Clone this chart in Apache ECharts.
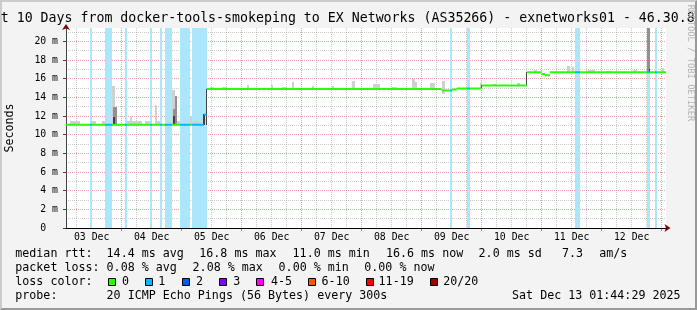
<!DOCTYPE html>
<html><head><meta charset="utf-8">
<script src="https://cdn.jsdelivr.net/npm/echarts@6/dist/echarts.min.js"></script>
<style>
html,body{margin:0;padding:0;background:#f3f3f3;}
#frame{position:absolute;left:0;top:0;width:693px;height:306px;border-style:solid;border-width:2px;border-color:#cbcbcb #999999 #999999 #cbcbcb;background:#f3f3f3;}
#chart{position:absolute;left:0;top:0;width:697px;height:310px;}
</style></head><body>
<div id="frame"></div><div id="chart"></div>
<script>
// ---- DATA (time in hours since 03 Dec 2025 00:00, values in ms) ----
const startHour = 1.7414;          // Dec 03 01:44:29
const endHour = 241.7414;          // Dec 13 01:44:29
const yMaxMs = 21.43;

const dayLabels = ['03 Dec','04 Dec','05 Dec','06 Dec','07 Dec','08 Dec','09 Dec','10 Dec','11 Dec','12 Dec'];
const dayNoonHours = [12,36,60,84,108,132,156,180,204,228];
const midnightHours = [24,48,72,96,120,144,168,192,216,240];
const yMajorTicks = [0,2,4,6,8,10,12,14,16,18,20];
const yMinorTicks = [1,3,5,7,9,11,13,15,17,19,21];

// median rtt, piecewise
const medianStart = [1.74, 56.9, 58.0, 152.0, 156.2, 158.0, 168.0, 186.0, 192.0, 193.3, 195.3];
const medianEnd   = [56.9, 58.0, 152.0, 156.2, 158.0, 168.0, 186.0, 192.0, 193.3, 195.3, 241.74];
const medianMs    = [11.05, 12.15, 14.9, 14.74, 14.85, 14.95, 15.28, 16.68, 16.5, 16.36, 16.7];

// loss periods (pings lost of 20)
const lossStart = [11.3, 17.3, 25.3, 35.3, 39.3, 41.3, 47.3, 52.0, 155.3, 162.0, 205.3, 234.0, 237.3];
const lossEnd   = [12.0, 20.2, 26.0, 36.1, 40.0, 44.0, 51.3, 58.0, 156.2, 163.3, 207.3, 235.3, 238.1];
const lossPings = [1,1,1,1,1,1,1,1,1,1,1,1,1];

// smoke: [tStart, tEnd, low ms, high ms]
const smokeLight = [
  [3.3,7.3,11.0,11.5],[11.9,13.9,11.0,11.45],[16.0,17.3,11.0,11.5],[20.0,21.3,11.1,15.2],
  [26.0,27.3,11.0,11.45],[27.3,28.0,11.0,12.0],[28.0,32.0,11.0,11.45],[33.3,35.3,11.0,11.45],
  [37.3,38.0,11.1,13.2],[38.0,39.3,11.0,11.5],[44.0,45.3,11.1,14.8],[46.0,47.3,11.0,11.5],
  [51.3,52.0,11.0,12.0],[52.6,55.0,11.0,11.45],
  [59.5,61.0,14.8,15.15],[64,66,14.8,15.1],[74.3,75.0,14.8,15.35],[83.9,84.6,14.8,15.35],
  [88,90,14.8,15.15],[92.3,93.0,14.8,15.6],[100.3,101.0,14.8,15.2],[108.3,109.0,14.8,15.25],
  [116.0,117.3,14.8,15.8],[124.5,127.3,14.8,15.4],[132,134,14.8,15.15],[140.0,141.3,14.8,16.0],
  [141.3,142.0,14.8,15.6],[147.3,149.3,14.8,15.5],[152.0,153.3,14.4,15.8],[167.3,168.0,15.0,15.5],
  [172,174,15.2,15.45],[182.0,183.3,15.2,15.5],[189,190,16.6,16.9],[202.0,203.3,16.6,17.4],
  [204.3,205.0,16.6,17.2],[210.5,213.3,16.6,16.9],[218,220,16.6,16.85],[228.5,230.0,16.6,16.9],
  [240.0,241.0,16.6,17.1]
];
const smokeMid = [
  [20.7,22.0,11.1,13.0],[44.6,45.3,11.1,12.8],[45.3,46.0,11.1,14.1],[234.0,235.3,16.7,24.0]
];
const smokeDark = [
  [20.7,21.3,11.1,11.9],[44.6,45.3,11.1,12.0],[56.5,57.2,11.05,12.2],[57.8,58.2,11.05,14.9],
  [167.8,168.2,14.95,15.28],[185.8,186.2,15.28,16.68],[234.9,235.4,16.7,17.0]
];

const lossColors = ['#26ff00','#00b8ff','#0059ff','#7e00ff','#ff00ff','#ff5500','#ff0000','#a10000'];
const lossLegend = ['0','1','2','3','4-5','6-10','11-19','20/20'];

// ---- CHART ----
const MONO = '"DejaVu Sans Mono"';
const chart = echarts.init(document.getElementById('chart'), null, {renderer:'canvas'});

const minorX = [];
for (let h = 6; h < endHour; h += 6) if (h % 24 !== 0) minorX.push(h);

function rectRenderer(color, fullHeight) {
  return function (params, api) {
    const t0 = api.value(0), t1 = api.value(1);
    const lo = fullHeight ? 0 : api.value(2);
    const hi = fullHeight ? yMaxMs : api.value(3);
    const a = api.coord([t0, hi]), b = api.coord([t1, lo]);
    let x0 = Math.round(a[0]), x1 = Math.round(b[0]);
    if (x1 <= x0) x1 = x0 + 1;
    let y0 = Math.round(a[1]), y1 = Math.round(b[1]);
    if (y1 <= y0) y1 = y0 + 1;
    const cs = params.coordSys;
    const shape = echarts.graphic.clipRectByRect(
      {x: x0, y: y0, width: x1 - x0, height: y1 - y0},
      {x: cs.x, y: cs.y, width: cs.width, height: cs.height});
    if (!shape) return null;
    return {type: 'rect', shape: shape, style: {fill: color}};
  };
}

const medianData = [];
medianStart.forEach((s, i) => {
  medianData.push([s, medianMs[i]], [medianEnd[i], medianMs[i]], [medianEnd[i], null]);
});

const gridMinor = {type: 'dotted', color: 'rgba(140,140,140,0.45)', width: 1};
const gridMajor = {type: 'dotted', color: 'rgba(200,40,40,0.42)', width: 1};
const hidden = {show: false};
const xBase = {type: 'value', min: startHour, max: endHour, position: 'bottom', gridIndex: 0};
const yBase = {type: 'value', min: 0, max: yMaxMs, position: 'left', gridIndex: 0};

const legendFont = '11.66px ' + MONO;
const graphics = [
  {type:'text', x: 0.7, y: 19, style:{text:'t 10 Days from docker-tools-smokeping to EX Networks (AS35266) - exnetworks01 - 46.30.8', font:'13.25px ' + MONO, fill:'#000', verticalAlign:'middle'}},
  {type:'text', x: 10, y: 128, rotation: Math.PI/2, style:{text:'Seconds', font: legendFont, fill:'#000', align:'center', verticalAlign:'middle'}},
  {type:'text', x: 690.5, y: 63, rotation: -Math.PI/2, style:{text:'RRDTOOL / TOBI OETIKER', font:'8.8px ' + MONO, fill:'#b4b4b4', align:'center', verticalAlign:'middle'}}
];
function addRow(y, items) {
  items.forEach(([x, t]) => graphics.push({type:'text', x: x, y: y, style:{text: t, font: legendFont, fill:'#000', verticalAlign:'middle'}}));
}
addRow(254.3, [[15.3,'median rtt:'],[106.6,'14.4 ms avg'],[199.3,'16.8 ms max'],[292.6,'11.0 ms min'],[386,'16.6 ms now'],[478.6,'2.0 ms sd'],[562,'7.3'],[599.3,'am/s']]);
addRow(268.3, [[15.3,'packet loss:'],[106.6,'0.08 % avg'],[192.6,'2.08 % max'],[278.6,'0.00 % min'],[364.3,'0.00 % now']]);
addRow(282.3, [[15.3,'loss color:']]);
addRow(296, [[15.3,'probe:'],[106.6,'20 ICMP Echo Pings (56 Bytes) every 300s']]);
graphics.push({type:'text', x: 680.5, y: 296, style:{text:'Sat Dec 13 01:44:29 2025', font: legendFont, fill:'#000', align:'right', verticalAlign:'middle'}});
const squareX = [108, 145, 182, 219, 256, 308, 366, 430];
const squareLabelX = [122, 158.3, 196, 233.3, 271, 321.6, 378.6, 443.3];
lossLegend.forEach((lab, i) => {
  graphics.push({type:'rect', shape:{x: squareX[i] + 0.5, y: 278.5, width: 7, height: 7}, style:{fill: lossColors[i], stroke:'#000', lineWidth: 1}});
  graphics.push({type:'text', x: squareLabelX[i], y: 282.3, style:{text: lab, font: legendFont, fill:'#000', verticalAlign:'middle'}});
});

const option = {
  animation: false,
  backgroundColor: 'transparent',
  grid: {left: 66, top: 28, width: 600, height: 200, show: true, backgroundColor: '#ffffff', borderWidth: 0},
  xAxis: [
    Object.assign({}, xBase, {axisLine: hidden, axisLabel: hidden,
      axisTick: {show: false, customValues: minorX}, splitLine: {show: true, lineStyle: gridMinor}}),
    Object.assign({}, xBase, {axisLine: hidden, axisLabel: hidden,
      axisTick: {show: true, customValues: midnightHours, length: 3, lineStyle: {color: 'rgba(200,40,40,0.6)'}},
      splitLine: {show: true, lineStyle: gridMajor}}),
    Object.assign({}, xBase, {z: 0, axisLabel: hidden, axisTick: hidden, splitLine: hidden,
      axisLine: {show: true, symbol: ['none','arrow'], symbolSize: [6, 6], symbolOffset: [0, 4.5], lineStyle: {color: '#7f0000', width: 1}}}),
    Object.assign({}, xBase, {z: 1, axisTick: hidden, splitLine: hidden,
      axisLine: {show: true, lineStyle: {color: '#000', width: 1}},
      axisLabel: {show: true, customValues: dayNoonHours, margin: 4, fontFamily: 'DejaVu Sans Mono', fontSize: 9.8, color: '#000',
        formatter: v => dayLabels[dayNoonHours.indexOf(v)] || ''}})
  ],
  yAxis: [
    Object.assign({}, yBase, {axisLine: hidden, axisLabel: hidden,
      axisTick: {show: false, customValues: yMinorTicks}, splitLine: {show: true, lineStyle: gridMinor}}),
    Object.assign({}, yBase, {axisLine: hidden,
      axisTick: {show: true, customValues: yMajorTicks, length: 3, lineStyle: {color: '#444'}},
      splitLine: {show: true, lineStyle: gridMajor},
      axisLabel: {show: true, customValues: yMajorTicks, margin: 8, fontFamily: 'DejaVu Sans Mono', fontSize: 9.8, color: '#000',
        formatter: v => v === 0 ? '0  ' : v + ' m'}}),
    Object.assign({}, yBase, {z: 0, axisLabel: hidden, axisTick: hidden, splitLine: hidden,
      axisLine: {show: true, symbol: ['none','arrow'], symbolSize: [6, 6], symbolOffset: [0, 4], lineStyle: {color: '#7f0000', width: 1}}}),
    Object.assign({}, yBase, {z: 1, axisLabel: hidden, axisTick: hidden, splitLine: hidden,
      axisLine: {show: true, lineStyle: {color: '#444', width: 1}}})
  ],
  visualMap: [{
    type: 'piecewise', show: false, dimension: 0, seriesIndex: 4,
    pieces: lossStart.map((s, i) => ({gte: s, lt: lossEnd[i], color: lossColors[lossPings[i]]})),
    outOfRange: {color: lossColors[0]}
  }],
  series: [
    {type: 'custom', name: 'loss', xAxisIndex: 3, yAxisIndex: 1, clip: true, silent: true,
      renderItem: rectRenderer('#aae6fc', true),
      data: lossStart.map((s, i) => [s, lossEnd[i], lossPings[i]]), encode: {x: [0, 1]}},
    {type: 'custom', name: 'smoke-light', xAxisIndex: 3, yAxisIndex: 1, clip: true, silent: true,
      renderItem: rectRenderer('#d0d0d0', false), data: smokeLight, encode: {x: [0, 1], y: [2, 3]}},
    {type: 'custom', name: 'smoke-mid', xAxisIndex: 3, yAxisIndex: 1, clip: true, silent: true,
      renderItem: rectRenderer('#909090', false), data: smokeMid, encode: {x: [0, 1], y: [2, 3]}},
    {type: 'custom', name: 'smoke-dark', xAxisIndex: 3, yAxisIndex: 1, clip: true, silent: true,
      renderItem: rectRenderer('#404040', false), data: smokeDark, encode: {x: [0, 1], y: [2, 3]}},
    {type: 'line', name: 'median', xAxisIndex: 3, yAxisIndex: 1, data: medianData, showSymbol: false, symbol: 'none',
      connectNulls: false, lineStyle: {width: 2}, silent: true}
  ],
  graphic: graphics
};
chart.setOption(option);
</script>
</body></html>
